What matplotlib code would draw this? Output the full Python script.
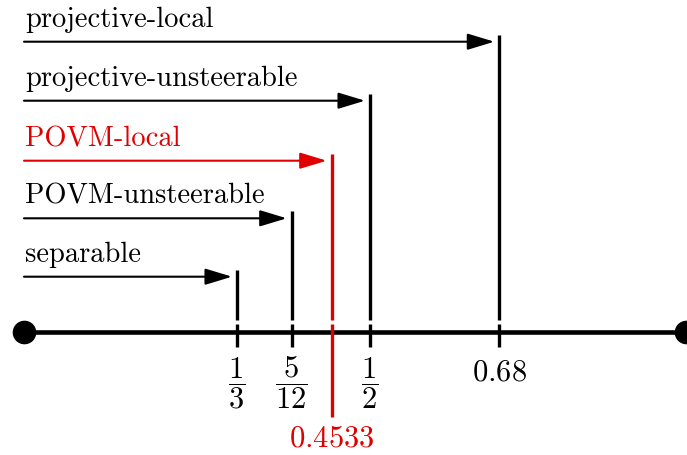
import numpy as np
import matplotlib
matplotlib.use('Agg')
import matplotlib.pyplot as plt

plt.rcParams['font.family'] = 'serif'
plt.rcParams['font.serif'] = ['cmr10']
plt.rcParams['mathtext.fontset'] = 'cm'
plt.rcParams['axes.formatter.use_mathtext'] = True

# thresholds (top row first)
names = ['projective-local', 'projective-unsteerable', 'POVM-local',
         'POVM-unsteerable', 'separable']
thresholds = [0.68, 1/2, 0.4533, 5/12, 1/3]
tick_labels = [r'$0.68$', r'$\dfrac{1}{2}$', r'$0.4533$', r'$\dfrac{5}{12}$', r'$\dfrac{1}{3}$']
highlight = 'POVM-local'
axis_start, axis_end = 0.2, 0.86

# schematic (non-linear) placement of the values along the line
knot_val = [0.0, axis_start, 1/3, 5/12, 0.4533, 1/2, 0.68, axis_end, 1.5]
knot_px = [-200, 24, 237, 291.7, 331.7, 370, 499.3, 686, 1300]
fwd = lambda v: np.interp(v, knot_val, knot_px)
inv = lambda p: np.interp(p, knot_px, knot_val)

red = '#e00000'
fs = 20.5
fs_tick = 22

fig = plt.figure(figsize=(6.87, 4.55), dpi=100)
ax = fig.add_axes([0, 0, 1, 1])
ax.set_xscale('function', functions=(fwd, inv))
ax.set_xlim(inv(0), inv(687))
ax.set_ylim(455, 0)
ax.axis('off')

axis_y = 332
row_y = [41.7, 100.7, 160.7, 218.3, 276.7]

# main line with end dots
ax.plot([axis_start, axis_end], [axis_y, axis_y], color='black', lw=3.3,
        solid_capstyle='butt', zorder=2)
ax.plot([axis_start, axis_end], [axis_y, axis_y], 'o', color='black', ms=16,
        clip_on=False, zorder=3)

for name, t, lab, y in zip(names, thresholds, tick_labels, row_y):
    c = red if name == highlight else 'black'
    ax.text(axis_start + 0.0005, y - 14.5, name, color=c, fontsize=fs,
            va='baseline', ha='left')
    ax.annotate('', xy=(t, y), xytext=(axis_start, y),
                arrowprops=dict(arrowstyle='-|>,head_length=1.65,head_width=0.5',
                                color=c, lw=1.5, shrinkA=0, shrinkB=3.6,
                                mutation_scale=10))
    ax.plot([t, t], [y - 7, 320], color=c, lw=2.4, solid_capstyle='butt')
    low = 417 if name == highlight else 347
    ax.plot([t, t], [324, low], color=c, lw=2.4, solid_capstyle='butt', zorder=4)
    if name == highlight:
        ax.text(t, 438.5, lab, color=c, fontsize=fs_tick, ha='center', va='center')
    elif 'dfrac' in lab:
        ax.text(t, 383, lab, color=c, fontsize=fs_tick, ha='center', va='center')
    else:
        ax.text(t, 372.5, lab, color=c, fontsize=fs_tick, ha='center', va='center')

fig.savefig('out.png', dpi=100)
